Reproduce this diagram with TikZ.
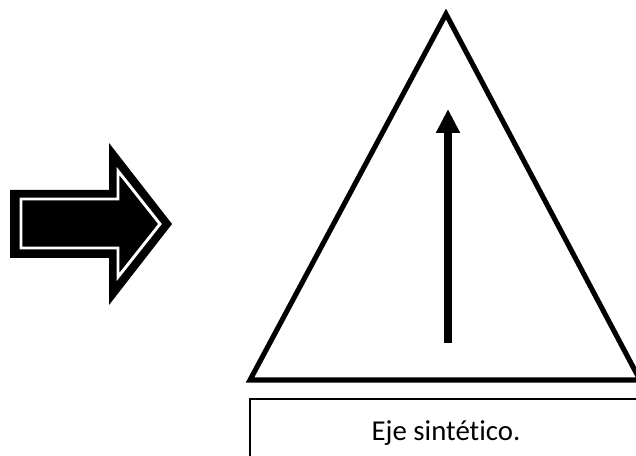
\documentclass[tikz,border=0pt]{standalone}
\usepackage{fontspec}
\setmainfont[Ligatures={NoCommon}]{Carlito}
\usepackage{tikz}
\usetikzlibrary{arrows.meta}

\begin{document}
\begin{tikzpicture}[x=0.75pt,y=-0.75pt]

\tikzset{outline/.style = {draw,line width=3.8pt,line join=miter}}
\tikzset{axis/.style = {line width=6pt,-{Triangle[length=18pt,width=17pt]}}}
\tikzset{caption/.style = {draw,line width=1.1pt}}
\useasboundingbox (0,0) rectangle (636,456);
\clip (0,0) rectangle (636,456);
% block arrow
\fill[black] (10,190) -- (109,190) -- (109,143) -- (172,224) -- (109,305)
  -- (109,258) -- (10,258) -- cycle;
\draw[white,line width=2.2pt,fill=black] (21,199) -- (118,199) -- (118,171)
  -- (160,224) -- (118,277) -- (118,248) -- (21,248) -- cycle;
% triangle
\coordinate (top) at (446,14);
\coordinate (left) at (250,380);
\coordinate (right) at (640,380);
\draw[outline] (top) -- (left) -- (right) -- cycle;
% axis
\coordinate (base) at (448,343);
\coordinate (tip) at (448,109);
\draw[axis] (base) -- (tip);
% caption
\draw[caption] (250,399) rectangle (660,470);
\node[anchor=base,font=\fontsize{21.6}{25}\selectfont] (label) at (446,440) {Eje sintético.};
\end{tikzpicture}
\end{document}
